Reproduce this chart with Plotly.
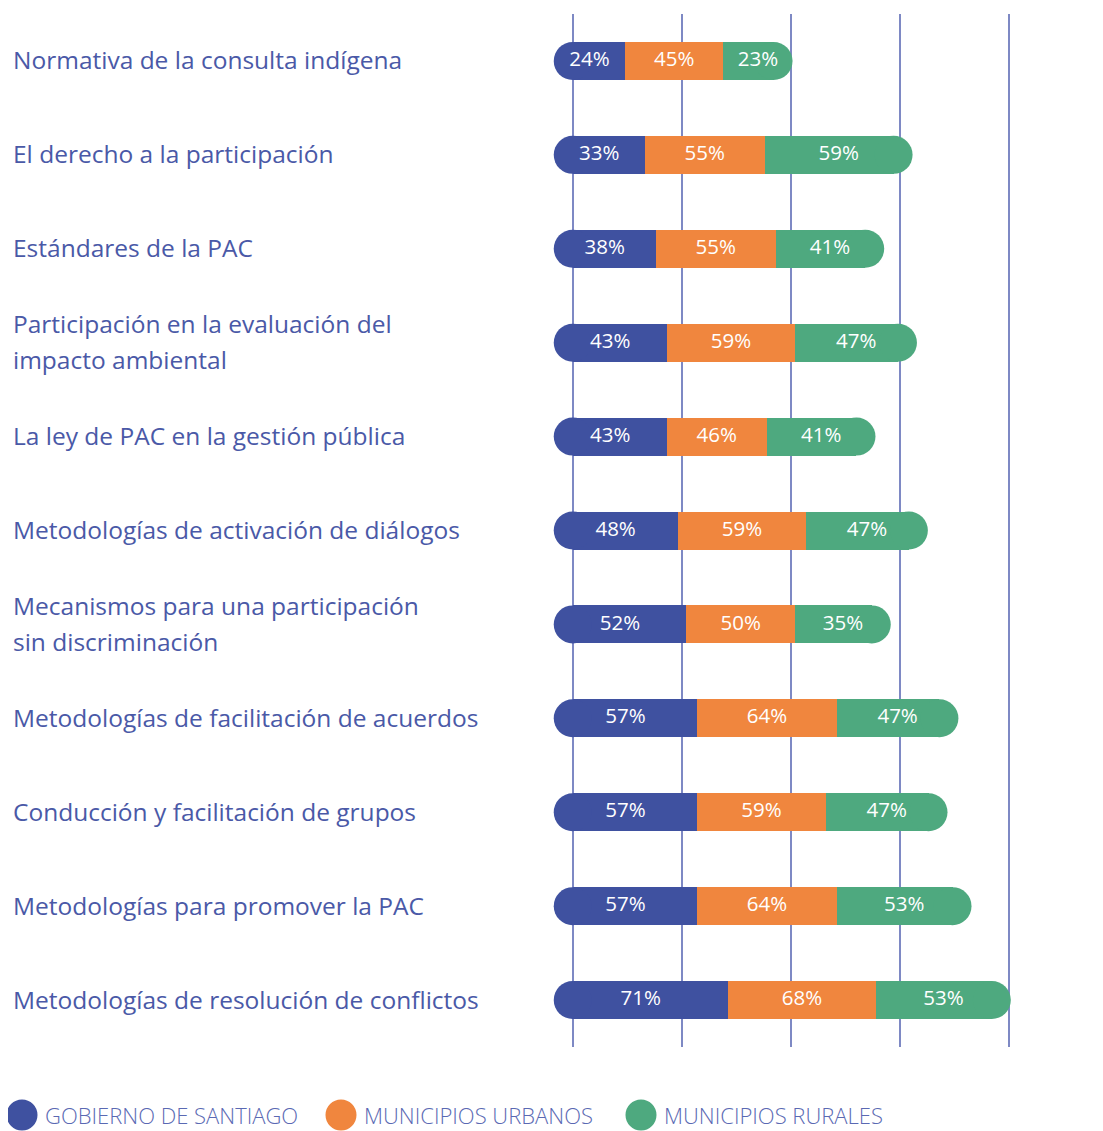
import plotly.graph_objects as go

# ---------------- data ----------------
categories = [
    "Normativa de la consulta indígena",
    "El derecho a la participación",
    "Estándares de la PAC",
    "Participación en la evaluación del\nimpacto ambiental",
    "La ley de PAC en la gestión pública",
    "Metodologías de activación de diálogos",
    "Mecanismos para una participación\nsin discriminación",
    "Metodologías de facilitación de acuerdos",
    "Conducción y facilitación de grupos",
    "Metodologías para promover la PAC",
    "Metodologías de resolución de conflictos",
]
series_names = ["GOBIERNO DE SANTIAGO", "MUNICIPIOS URBANOS", "MUNICIPIOS RURALES"]
gobierno = [24, 33, 38, 43, 43, 48, 52, 57, 57, 57, 71]
urbanos = [45, 55, 55, 59, 46, 59, 50, 64, 59, 64, 68]
rurales = [23, 59, 41, 47, 41, 47, 35, 47, 47, 53, 53]
grid_ticks = [0, 50, 100, 150, 200]

# ---------------- style ----------------
colors = ["#3f51a0", "#f0863e", "#4ea97f"]
label_color = "#4a59a7"
legend_text_color = "#5a69b3"
grid_color = "#7e89c4"
FONT = "Open Sans"

OFF = 8  # page body margin
W, H = 1103 - OFF, 1131 - OFF
ML, MT, MB = 540 - OFF, 14 - OFF, 84
X_RANGE = [-15, 215]
PLOT_W = 502
MR = W - ML - PLOT_W
PLOT_H = H - MT - MB
px_per_unit = PLOT_W / (X_RANGE[1] - X_RANGE[0])
BAR_PX = 38
n = len(categories)
bargap = 1 - BAR_PX / (PLOT_H / n)
cap_u = (BAR_PX / 2) / px_per_unit

ykeys = [c.replace("\n", " ") for c in categories]
series = [gobierno, urbanos, rurales]

fig = go.Figure()

# stacked bars
for name, vals, col in zip(series_names, series, colors):
    fig.add_trace(go.Bar(
        y=ykeys, x=vals, orientation="h", name=name,
        marker=dict(color=col, line=dict(width=0)),
        hoverinfo="skip", showlegend=False,
    ))

totals = [a + b + c for a, b, c in zip(gobierno, urbanos, rurales)]
# rounded caps at both ends
fig.add_trace(go.Scatter(
    y=ykeys, x=[0] * n, mode="markers",
    marker=dict(size=BAR_PX, color=colors[0], line=dict(width=0)),
    hoverinfo="skip", showlegend=False, cliponaxis=False,
))
fig.add_trace(go.Scatter(
    y=ykeys, x=totals, mode="markers",
    marker=dict(size=BAR_PX, color=colors[2], line=dict(width=0)),
    hoverinfo="skip", showlegend=False, cliponaxis=False,
))

# segment value labels (centred on visible extents including caps)
starts = [[0] * n, gobierno, [a + b for a, b in zip(gobierno, urbanos)]]
for k, vals in enumerate(series):
    xs = []
    for i in range(n):
        s = starts[k][i]
        e = s + vals[i]
        if k == 0:
            s -= cap_u
        if k == 2:
            e += cap_u
        xs.append((s + e) / 2)
    fig.add_trace(go.Scatter(
        y=ykeys, x=xs, mode="text", text=[f"{v}%" for v in vals],
        textposition="middle center",
        textfont=dict(color="white", size=20.5, family=FONT),
        hoverinfo="skip", showlegend=False, cliponaxis=False,
    ))

# category labels, left-aligned
label_x = (11 - OFF - ML) / PLOT_W
annotations = []
for c, key in zip(categories, ykeys):
    lines = c.split("\n")
    nl = len(lines)
    for j, line in enumerate(lines):
        shift = ((nl - 1) / 2 - j) * 36
        annotations.append(dict(
            x=label_x, xref="paper", y=key, yref="y", text=line,
            xanchor="left", yanchor="middle", showarrow=False, yshift=shift + 1,
            font=dict(size=24.5, color=label_color, family=FONT),
        ))

# legend (drawn manually for large circular symbols)
shapes = []
leg_circle_px = [22, 341, 641]
leg_y_px = 1115 - OFF
leg_py = (H - MB - leg_y_px) / PLOT_H
for name, col, cx in zip(series_names, colors, leg_circle_px):
    ax = (cx - OFF - ML) / PLOT_W
    shapes.append(dict(
        type="circle", xref="paper", yref="paper", xsizemode="pixel", ysizemode="pixel",
        xanchor=ax, yanchor=leg_py, x0=-15.5, x1=15.5, y0=-15.5, y1=15.5,
        fillcolor=col, line=dict(width=0), layer="above",
    ))
    annotations.append(dict(
        x=(cx + 21 - OFF - ML) / PLOT_W, xref="paper", y=leg_py, yref="paper",
        text=name, xanchor="left", yanchor="middle", showarrow=False,
        font=dict(size=22, color=legend_text_color, family=FONT, weight=300),
    ))

fig.update_layout(
    width=W, height=H,
    margin=dict(l=ML, r=MR, t=MT, b=MB, pad=0),
    barmode="stack", bargap=bargap,
    paper_bgcolor="white", plot_bgcolor="white",
    xaxis=dict(range=X_RANGE, tickvals=grid_ticks, showticklabels=False,
               showgrid=True, gridcolor=grid_color, gridwidth=2,
               zeroline=False, showline=False, ticks="", fixedrange=True),
    yaxis=dict(categoryorder="array", categoryarray=ykeys,
               range=[n - 0.5, -0.5], autorange=False,
               showticklabels=False, showgrid=False, zeroline=False,
               showline=False, ticks="", fixedrange=True),
    annotations=annotations, shapes=shapes,
    showlegend=False,
)

fig.write_html("out.html")
